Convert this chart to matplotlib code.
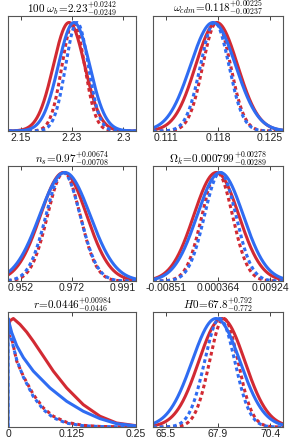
import numpy as np
import matplotlib
matplotlib.use("Agg")
import matplotlib.pyplot as plt

plt.rcParams['mathtext.fontset'] = 'cm'
plt.rcParams['font.family'] = ['Liberation Sans', 'DejaVu Sans']

RED = '#d22a33'
BLUE = '#2f6cf2'

# ---- data ----
titles = [
    r'$100\ \omega_{b}\!=\!2.23^{+0.0242}_{-0.0249}$',
    r'$\omega_{cdm}\!=\!0.118^{+0.00225}_{-0.00237}$',
    r'$n_{s}\!=\!0.97^{+0.00674}_{-0.00708}$',
    r'$\Omega_{k}\!=\!0.000799^{+0.00278}_{-0.00289}$',
    r'$r\!=\!0.0446^{+0.00984}_{-0.0446}$',
    r'$H0\!=\!67.8^{+0.792}_{-0.772}$',
]
tick_labels = [
    ['2.15', '2.23', '2.3'],
    ['0.111', '0.118', '0.125'],
    ['0.952', '0.972', '0.991'],
    ['-0.00851', '0.000364', '0.00924'],
    ['0', '0.125', '0.25'],
    ['65.5', '67.9', '70.4'],
]
tick_values = [
    [2.152, 2.226, 2.300],
    [0.111, 0.118, 0.125],
    [0.9522, 0.9717, 0.9912],
    [-0.00851, 0.000364, 0.00924],
    [0.0, 0.125, 0.25],
    [65.45, 67.9, 70.35],
]

# Gaussian-shaped posteriors: (mean, sigma) for red solid, blue solid, red dashed, blue dashed
red_solid_mean = [2.2217, 0.11782, 0.9685, 0.000077, None, 68.08]
red_solid_sig = [0.0226, 0.00282, 0.0088, 0.00384, None, 1.084]
blue_solid_mean = [2.2289, 0.11733, 0.9690, 0.000742, None, 67.806]
blue_solid_sig = [0.0226, 0.00303, 0.0096, 0.00393, None, 1.127]
red_dash_mean = [2.2279, 0.11782, 0.9686, 0.000230, None, 68.17]
red_dash_sig = [0.0163, 0.00186, 0.0062, 0.00260, None, 0.668]
blue_dash_mean = [2.2332, 0.11755, 0.9683, 0.000742, None, 67.98]
blue_dash_sig = [0.0163, 0.00191, 0.0065, 0.00267, None, 0.711]

# r panel: points
r_red_solid_x = [0.0, 0.004, 0.0104, 0.0234, 0.0365, 0.0495, 0.069, 0.0885, 0.1146, 0.147, 0.1797, 0.212, 0.25]
r_red_solid_y = [0.915, 0.98, 1.0, 0.946, 0.875, 0.79, 0.653, 0.515, 0.36, 0.206, 0.099, 0.037, 0.012]
r_blue_solid_x = [0.0, 0.0, 0.0072, 0.017, 0.030, 0.0495, 0.082, 0.1146, 0.147, 0.1797, 0.212, 0.25]
r_blue_solid_y = [0.0, 1.0, 0.87, 0.75, 0.64, 0.515, 0.36, 0.237, 0.145, 0.077, 0.031, 0.01]
r_red_dash_x = [0.0, 0.0072, 0.017, 0.030, 0.0495, 0.069, 0.0885, 0.1146, 0.147, 0.18, 0.25]
r_red_dash_y = [0.85, 0.82, 0.607, 0.468, 0.299, 0.176, 0.099, 0.043, 0.015, 0.005, 0.0]
r_blue_dash_x = [0.0, 0.0, 0.0072, 0.017, 0.030, 0.0495, 0.069, 0.0885, 0.1146, 0.147, 0.18, 0.25]
r_blue_dash_y = [0.0, 1.0, 0.80, 0.62, 0.46, 0.28, 0.16, 0.085, 0.035, 0.012, 0.004, 0.0]

# ---- layout ----
W, H = 292, 444
fig = plt.figure(figsize=(W / 100, H / 100), dpi=100)
cols = [(8, 128), (153, 130)]
rows = [(16, 131), (166, 281), (312, 427)]

LW = 2.2
DASH = (0, (1.2, 1.0))

for i in range(6):
    r, c = divmod(i, 2)
    x0, w = cols[c]
    top, bot = rows[r]
    ax = fig.add_axes([x0 / W, (H - bot) / H, w / W, (bot - top) / H])
    tv = tick_values[i]
    if i == 4:
        xmin, xmax = 0.0, 0.25
        ax.plot(r_red_solid_x, r_red_solid_y, color=RED, lw=LW)
        ax.plot(r_red_dash_x, r_red_dash_y, color=RED, lw=LW, ls=DASH)
        ax.plot(r_blue_solid_x, r_blue_solid_y, color=BLUE, lw=LW)
        ax.plot(r_blue_dash_x, r_blue_dash_y, color=BLUE, lw=LW, ls=DASH)
    else:
        step = (tv[2] - tv[0]) / 0.8
        xmin, xmax = tv[0] - 0.1 * step, tv[2] + 0.1 * step
        xs = np.linspace(xmin, xmax, 400)
        for m, s, col, ls in [
            (red_solid_mean[i], red_solid_sig[i], RED, '-'),
            (red_dash_mean[i], red_dash_sig[i], RED, DASH),
            (blue_solid_mean[i], blue_solid_sig[i], BLUE, '-'),
            (blue_dash_mean[i], blue_dash_sig[i], BLUE, DASH),
        ]:
            ax.plot(xs, np.exp(-0.5 * ((xs - m) / s) ** 2), color=col, lw=LW, ls=ls)
    ax.set_xlim(xmin, xmax)
    ax.set_ylim(0, 1.06)
    ax.set_yticks([])
    ax.set_xticks(tv)
    ax.set_xticklabels(tick_labels[i])
    ax.tick_params(axis='x', direction='in', length=3, width=0.6, top=True,
                   labelsize=7.5, pad=1.5, colors='#222222')
    for sp in ax.spines.values():
        sp.set_linewidth(0.8)
        sp.set_color('#555555')
    ax.set_title(titles[i], fontsize=8, pad=2.5)

fig.savefig('out.png', dpi=100)
